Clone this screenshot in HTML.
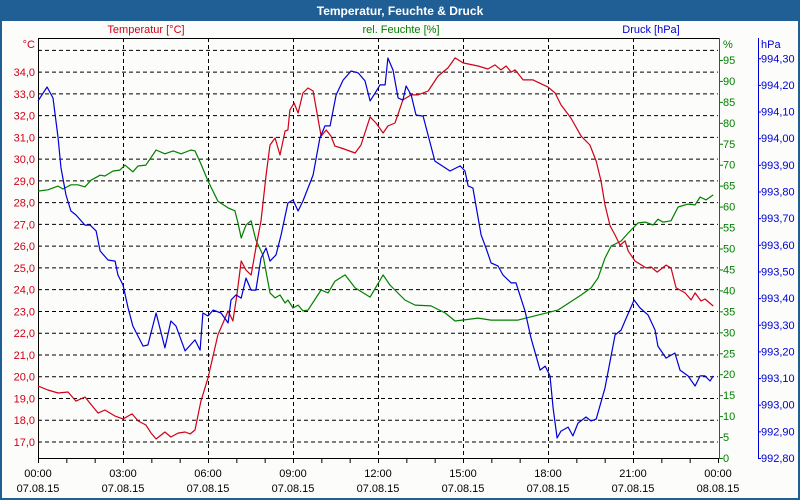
<!DOCTYPE html>
<html><head><meta charset="utf-8"><style>
html,body{margin:0;padding:0;width:800px;height:500px;overflow:hidden;background:#fff}
#wrap{position:absolute;left:0;top:0;width:796px;height:496px;border:2px solid #1f5f96;background:#fcfcfa}
#title{position:absolute;left:0;top:0;width:796px;height:19px;background:#1f5f96;color:#fff;font:bold 12px "Liberation Sans",sans-serif;text-align:center;line-height:19px}
svg{position:absolute;left:-2px;top:-2px}
text{font-family:"Liberation Sans",sans-serif;font-size:11px}
</style></head><body>
<div id="wrap">
<div id="title">Temperatur, Feuchte &amp; Druck</div>
</div>
<svg id="chart" width="800" height="500"></svg>
<script>
const tTimes=[0,0.35,0.71,1.06,1.34,1.66,2.12,2.36,2.72,3.0,3.32,3.53,3.81,3.99,4.17,4.48,4.69,4.94,5.19,5.37,5.54,5.75,6.0,6.35,6.53,6.71,6.88,7.02,7.17,7.34,7.52,7.69,7.87,8.05,8.19,8.37,8.54,8.72,8.82,8.89,9.04,9.18,9.35,9.53,9.71,9.88,9.99,10.17,10.34,10.48,10.7,11.19,11.4,11.72,11.93,12.18,12.35,12.6,12.88,13.17,13.41,13.77,14.12,14.47,14.72,15.0,15.53,15.88,16.13,16.34,16.52,16.7,16.84,17.12,17.47,18.0,18.25,18.46,18.81,19.17,19.48,19.7,19.87,20.01,20.19,20.37,20.54,20.72,20.83,21.07,21.46,21.64,21.85,22.17,22.34,22.52,22.84,23.05,23.19,23.4,23.54,23.83];
const tempValues=[19.57,19.39,19.25,19.30,18.88,19.07,18.33,18.47,18.19,18.06,18.29,17.97,17.78,17.41,17.14,17.46,17.23,17.41,17.46,17.37,17.55,18.88,19.94,21.92,22.47,23.02,22.56,23.76,25.32,24.90,24.67,25.92,27.16,29.27,30.65,30.97,30.19,31.29,31.34,32.26,32.58,32.12,33.04,33.27,33.13,31.89,31.06,31.34,31.06,30.60,30.51,30.28,30.65,31.94,31.66,31.20,31.52,31.66,32.72,32.95,32.95,33.13,33.82,34.19,34.65,34.42,34.28,34.14,34.33,34.10,34.28,34.00,34.10,33.64,33.64,33.31,33.04,32.49,31.89,31.06,30.65,29.91,29.0,27.89,26.93,26.51,26.05,26.24,25.78,25.32,25.0,25.04,24.81,25.13,25.0,24.08,23.85,23.53,23.85,23.48,23.57,23.25];
const hTimes=[0,0.35,0.71,0.88,1.16,1.41,1.66,1.87,2.19,2.36,2.65,2.89,3.07,3.35,3.53,3.81,4.17,4.48,4.77,5.05,5.40,5.54,5.75,6.0,6.35,6.71,6.95,7.06,7.17,7.34,7.52,7.69,7.94,8.19,8.37,8.54,8.72,8.82,9.0,9.18,9.35,9.53,9.99,10.24,10.48,10.84,11.19,11.72,12.18,12.42,12.95,13.31,13.87,14.37,14.72,15.53,15.99,16.94,17.65,18.35,19.17,19.52,19.77,20.01,20.23,20.58,20.83,21.18,21.43,21.71,21.88,22.06,22.34,22.59,22.94,23.19,23.37,23.58,23.83];
const humValues=[63.7,64.0,64.9,64.2,65.2,65.2,64.7,66.3,67.5,67.3,68.5,68.7,69.9,68.3,69.7,69.9,73.5,72.6,73.3,72.6,73.5,73.3,70.2,66.1,61.3,59.7,59.0,56.1,52.5,55.6,56.6,52.0,48.4,39.4,38.2,38.9,37.0,37.7,35.8,36.5,35.1,35.3,40.1,39.4,42.2,43.7,40.6,38.4,43.7,41.3,37.7,36.5,36.3,34.6,32.7,33.4,32.9,32.9,34.1,35.3,38.9,40.6,43.0,47.7,50.6,51.8,53.7,56.1,56.3,55.6,57.0,56.3,56.6,59.9,60.6,60.4,62.3,61.6,62.8];
const pTimes=[0,0.32,0.53,0.71,0.81,0.99,1.16,1.34,1.66,1.84,2.05,2.19,2.47,2.72,2.82,3.0,3.18,3.35,3.71,3.88,4.17,4.48,4.69,4.87,5.19,5.54,5.72,5.82,6.0,6.18,6.46,6.71,6.81,6.99,7.17,7.34,7.52,7.69,7.87,8.05,8.19,8.40,8.58,8.82,9.0,9.18,9.35,9.71,9.95,10.13,10.31,10.52,10.77,11.05,11.30,11.54,11.72,11.90,12.07,12.25,12.35,12.53,12.71,12.88,12.99,13.17,13.34,13.59,14.01,14.54,14.90,15.07,15.18,15.35,15.64,15.81,15.99,16.24,16.41,16.70,16.87,17.19,17.40,17.72,17.90,18.07,18.18,18.32,18.46,18.71,18.88,19.06,19.34,19.52,19.70,20.01,20.37,20.58,20.76,21.04,21.25,21.53,21.78,21.88,22.17,22.48,22.66,22.94,23.19,23.37,23.54,23.72,23.83];
const pressValues=[994.140,994.192,994.151,994.001,993.888,993.787,993.727,993.712,993.674,993.674,993.652,993.577,993.543,993.539,993.487,993.449,993.363,993.295,993.220,993.224,993.344,993.213,993.314,993.295,993.202,993.243,993.205,993.344,993.333,993.355,993.344,993.307,993.393,993.412,993.400,993.475,993.430,993.430,993.550,993.588,993.539,993.562,993.637,993.757,993.768,993.727,993.764,993.862,994.001,994.046,994.046,994.162,994.218,994.252,994.245,994.215,994.140,994.170,994.200,994.200,994.301,994.256,994.151,994.143,994.196,994.162,994.087,994.083,993.914,993.877,993.896,993.877,993.821,993.813,993.637,993.588,993.532,993.520,993.487,993.457,993.457,993.352,993.250,993.130,993.145,993.108,992.988,992.875,992.901,992.916,992.883,992.931,992.954,992.939,992.946,993.063,993.262,993.280,993.325,993.393,993.363,993.337,993.280,993.220,993.175,993.194,993.130,993.108,993.070,993.108,993.108,993.089,993.108];
const tempTicks=["17,0","18,0","19,0","20,0","21,0","22,0","23,0","24,0","25,0","26,0","27,0","28,0","29,0","30,0","31,0","32,0","33,0","34,0"];
const humTicks=["0","5","10","15","20","25","30","35","40","45","50","55","60","65","70","75","80","85","90","95"];
const pressTicks=["992,80","992,90","993,00","993,10","993,20","993,30","993,40","993,50","993,60","993,70","993,80","993,90","994,00","994,10","994,20","994,30"];
const timeLabels=["00:00","03:00","06:00","09:00","12:00","15:00","18:00","21:00","00:00"];
const dateLabels=["07.08.15","07.08.15","07.08.15","07.08.15","07.08.15","07.08.15","07.08.15","07.08.15","08.08.15"];

const X0=40,X1=720,YB=460,YT=40;
const xs=h=>X0+h*(X1-X0)/24;
const yT=t=>444-(t-17)*21.76;
const yH=v=>460-v*4.19;
const yP=p=>460-(p-992.8)*266.5;
const svg=document.getElementById('chart');
const NS='http://www.w3.org/2000/svg';
function mk(tag,attrs,txt){const e=document.createElementNS(NS,tag);for(const k in attrs)e.setAttribute(k,attrs[k]);if(txt!==undefined)e.textContent=txt;svg.appendChild(e);return e;}
const RED='#d00018',GREEN='#008000',BLUE='#0000d8';

// horizontal grid (temp ticks incl. 35)
for(let t=17;t<=35;t++){
  const g=mk('line',{x1:X0,x2:X1,y1:yT(t),y2:yT(t),stroke:'#000','stroke-dasharray':'4,3','stroke-width':1});
  
  
}
// vertical grid
for(let i=1;i<8;i++){
  const g=mk('line',{x1:xs(i*3)+0.5,x2:xs(i*3)+0.5,y1:YT,y2:YB,stroke:'#000','stroke-dasharray':'4,3','stroke-width':1});
  
  
}
// axes
let a=mk('line',{x1:X0+0.5,x2:X0+0.5,y1:YT,y2:YB+1,stroke:'#000'});

a=mk('line',{x1:X0,x2:X1+1,y1:YT+0.5,y2:YT+0.5,stroke:'#000'});

a=mk('line',{x1:X0,x2:X1+1,y1:YB+0.5,y2:YB+0.5,stroke:'#000'});

a=mk('line',{x1:X1+1.5,x2:X1+1.5,y1:YT,y2:YB+1,stroke:GREEN});

a=mk('line',{x1:760.5,x2:760.5,y1:YT,y2:YB+1,stroke:BLUE});

// x minor ticks
for(let h=0;h<=24;h++){
  const t=mk('line',{x1:xs(h)+0.5,x2:xs(h)+0.5,y1:YB,y2:YB+5,stroke:'#000'});
  
}
// x labels
timeLabels.forEach((l,i)=>{
  const e=mk('text',{x:xs(i*3),y:479,'text-anchor':'middle',fill:'#000'},l);
  
  const d=mk('text',{x:xs(i*3),y:494,'text-anchor':'middle',fill:'#000'},dateLabels[i]);
  
});
// temp labels
tempTicks.forEach((l,i)=>{
  const e=mk('text',{x:37,y:yT(17+i)+4,'text-anchor':'end',fill:RED},l);
  
});
// humidity ticks
humTicks.forEach((l,i)=>{
  const y=yH(i*5);
  const t=mk('line',{x1:X1+1,x2:X1+5,y1:y+0.5,y2:y+0.5,stroke:GREEN});
  
  const e=mk('text',{x:725,y:y+4,fill:GREEN},l);
  
});
// pressure ticks
pressTicks.forEach((l,i)=>{
  const y=yP(992.8+i*0.1);
  const t=mk('line',{x1:760,x2:763,y1:y+0.5,y2:y+0.5,stroke:BLUE});
  
  const e=mk('text',{x:763,y:y+4,fill:BLUE},l);
  
});
// unit & series labels
let u=mk('text',{x:37,y:50,'text-anchor':'end',fill:RED},'°C');

u=mk('text',{x:725,y:50,fill:GREEN},'%');

u=mk('text',{x:763,y:50,fill:BLUE},'hPa');

u=mk('text',{x:148,y:35,'text-anchor':'middle',fill:RED},'Temperatur [°C]');

u=mk('text',{x:403,y:35,'text-anchor':'middle',fill:GREEN},'rel. Feuchte [%]');

u=mk('text',{x:653,y:35,'text-anchor':'middle',fill:BLUE},'Druck [hPa]');

// series
function line(times,vals,yf,col,name){
  const pts=times.map((t,i)=>xs(t).toFixed(1)+','+yf(vals[i]).toFixed(1)).join(' ');
  const p=mk('polyline',{points:pts,fill:'none',stroke:col,'stroke-width':1.2,'stroke-linejoin':'round'});
  
  
}
line(hTimes,humValues,yH,GREEN,'humidity-line');
line(tTimes,tempValues,yT,RED,'temperature-line');
line(pTimes,pressValues,yP,BLUE,'pressure-line');
</script>
</body></html>
